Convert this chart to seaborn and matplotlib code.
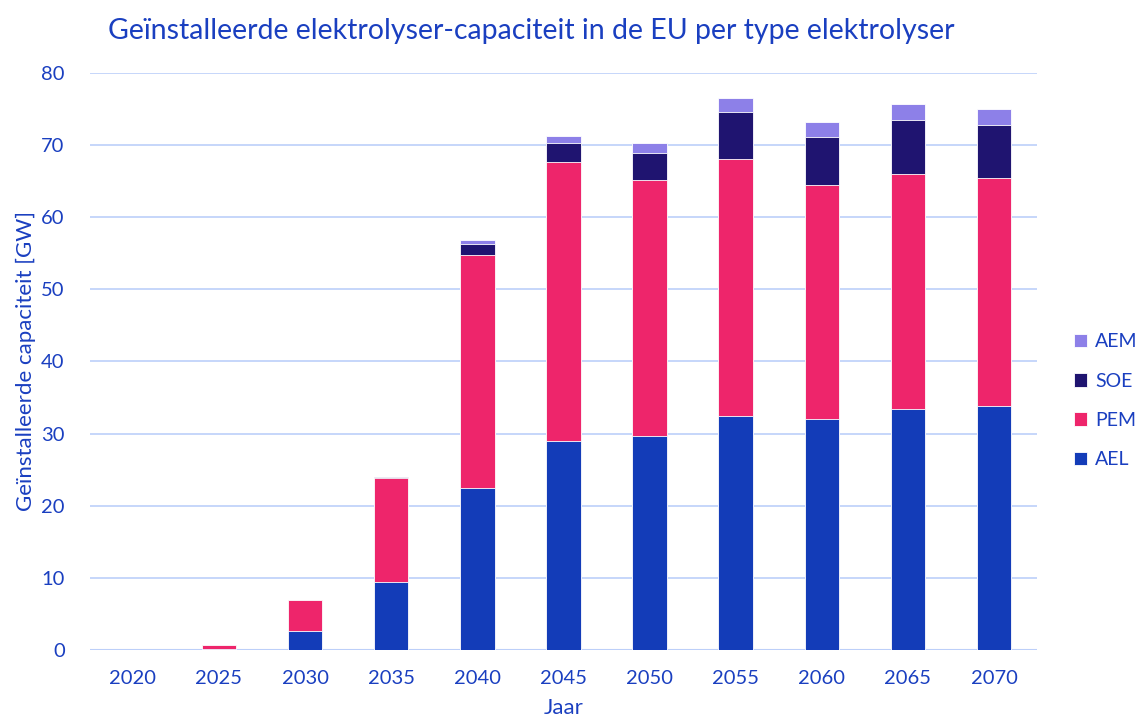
import numpy as np
import pandas as pd
import matplotlib
matplotlib.use("Agg")
import matplotlib.pyplot as plt
import seaborn as sns

years = ["2020", "2025", "2030", "2035", "2040", "2045", "2050", "2055", "2060", "2065", "2070"]
ael = [0.0, 0.2, 2.6, 9.5, 22.4, 29.0, 29.7, 32.4, 32.0, 33.4, 33.8]
pem = [0.0, 0.5, 4.3, 14.3, 32.4, 38.6, 35.5, 35.7, 32.4, 32.5, 31.6]
soe = [0.0, 0.0, 0.0, 0.2, 1.5, 2.7, 3.7, 6.5, 6.7, 7.6, 7.3]
aem = [0.0, 0.0, 0.0, 0.0, 0.5, 0.9, 1.4, 1.9, 2.1, 2.2, 2.3]

series = ["AEL", "PEM", "SOE", "AEM"]
colors = {"AEL": "#133cb8", "PEM": "#ee256b", "SOE": "#1f1470", "AEM": "#8d80e8"}
text_color = "#1a3fc0"
grid_color = "#bccff9"

df = pd.DataFrame({"Jaar": years, "AEL": ael, "PEM": pem, "SOE": soe, "AEM": aem})
cum = df[series].cumsum(axis=1)

sns.set_style("white")
plt.rcParams["font.family"] = ["Lato", "DejaVu Sans"]

fig, ax = plt.subplots(figsize=(11.36, 7.2), dpi=100)
fig.subplots_adjust(left=0.079, right=0.913, top=0.899, bottom=0.097)

# stacked bars: draw cumulative totals from the top layer down
for s in reversed(series):
    sns.barplot(x=df["Jaar"], y=cum[s], color=colors[s], width=0.4,
                edgecolor="white", linewidth=0.6, saturation=1, ax=ax, label=s)

ax.set_ylim(0, 80)
ax.set_yticks(range(0, 81, 10))
ax.yaxis.grid(True, color=grid_color, linewidth=1.2)
ax.set_axisbelow(True)
for sp in ax.spines.values():
    sp.set_visible(False)
ax.axhline(0, color=grid_color, linewidth=1.5, zorder=0)
ax.tick_params(axis="x", length=0, labelsize=14.5, labelcolor=text_color, pad=14)
ax.tick_params(axis="y", length=0, labelsize=14.5, labelcolor=text_color, pad=18)
ax.set_xlabel("Jaar", fontsize=16, color=text_color, labelpad=8)
ax.set_ylabel("Geïnstalleerde capaciteit [GW]", fontsize=16, color=text_color, labelpad=4)

fig.text(0.095, 0.975, "Geïnstalleerde elektrolyser-capaciteit in de EU per type elektrolyser",
         fontsize=20.5, color=text_color, va="top", ha="left")

handles, labels = ax.get_legend_handles_labels()
leg = ax.legend(handles, labels, loc="center left", bbox_to_anchor=(1.02, 0.432),
                frameon=False, fontsize=14, handlelength=0.7, handleheight=0.7,
                handletextpad=0.4, labelspacing=1.15)
for t in leg.get_texts():
    t.set_color(text_color)

fig.savefig("out.png", dpi=100)
